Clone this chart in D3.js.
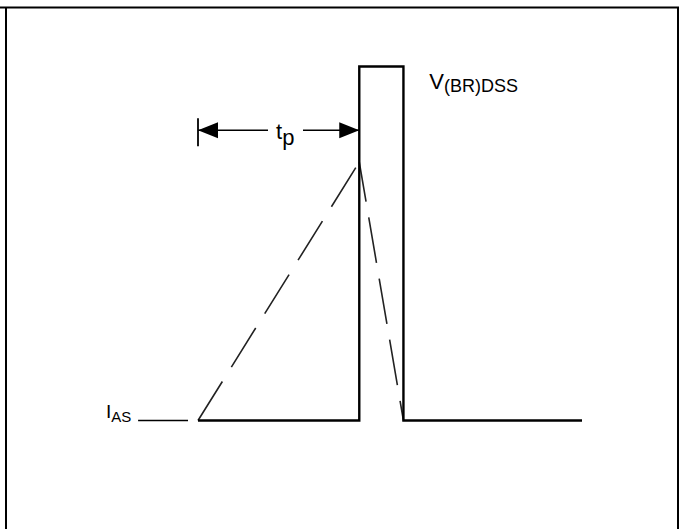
<!DOCTYPE html>
<html><head><meta charset="utf-8">
<script src="https://cdn.jsdelivr.net/npm/d3@7"></script>
<style>html,body{margin:0;padding:0;background:#fff;} svg{display:block;}</style>
</head><body>
<svg id="c" width="680" height="529"></svg>
<script>
// ---- data (arbitrary time / level units) ----
const vdsTime  = [0, 42, 42, 53.5, 53.5, 100];   // drain-source voltage waveform
const vdsLevel = [0, 0, 100, 100, 0, 0];
const iasTime  = [0, 42, 53.5];                  // avalanche current ramp
const iasLevel = [0, 73, 0];
const refTime  = [-15.6, -2.6];                  // short reference line at I_AS level
const tpSpan   = [0, 42];                        // t_p dimension
const tpLevel  = 82;
const labelMain = ["I", "V", "t"];
const labelSub  = ["AS", "(BR)DSS", "p"];

const svg = d3.select("#c");
const x = d3.scaleLinear().domain([0, 100]).range([198, 582]);
const y = d3.scaleLinear().domain([0, 100]).range([420.5, 66.5]);

// frame
svg.append("path")
  .attr("d", "M0,7.5 H678 V529 M6,7.5 V529")
  .attr("fill", "none").attr("stroke", "#000").attr("stroke-width", 2);

const line = d3.line().x(d => x(d[0])).y(d => y(d[1]));

// dashed current ramp (two segments, dashes starting at the ends)
svg.append("path")
  .attr("d", line([[iasTime[0], iasLevel[0]], [iasTime[1], iasLevel[1]]]))
  .attr("fill", "none").attr("stroke", "#222").attr("stroke-width", 1.6)
  .attr("stroke-dasharray", "46,17");
svg.append("path")
  .attr("d", line([[iasTime[2], iasLevel[2]], [iasTime[1], iasLevel[1]]]))
  .attr("fill", "none").attr("stroke", "#222").attr("stroke-width", 1.6)
  .attr("stroke-dasharray", "20,16,46,16,46,16,46,16,46,16");

// solid voltage waveform
svg.append("path")
  .attr("d", line(vdsTime.map((t, i) => [t, vdsLevel[i]])))
  .attr("fill", "none").attr("stroke", "#000").attr("stroke-width", 2.4)
  .attr("stroke-linejoin", "miter");

// short reference line
svg.append("line")
  .attr("x1", x(refTime[0])).attr("x2", x(refTime[1]))
  .attr("y1", y(0)).attr("y2", y(0))
  .attr("stroke", "#000").attr("stroke-width", 1.4);

// t_p dimension
const ty = y(tpLevel);
const xa = x(tpSpan[0]), xb = x(tpSpan[1]);
svg.append("line").attr("x1", xa).attr("x2", xa).attr("y1", ty - 12).attr("y2", ty + 16)
  .attr("stroke", "#000").attr("stroke-width", 1.8);
svg.append("line").attr("x1", xa).attr("x2", xa + 70).attr("y1", ty).attr("y2", ty)
  .attr("stroke", "#000").attr("stroke-width", 1.6);
svg.append("line").attr("x1", xa + 105).attr("x2", xb).attr("y1", ty).attr("y2", ty)
  .attr("stroke", "#000").attr("stroke-width", 1.6);
svg.append("path").attr("d", `M${xa},${ty} L${xa + 20},${ty - 8} L${xa + 20},${ty + 8} Z`).attr("fill", "#000");
svg.append("path").attr("d", `M${xb},${ty} L${xb - 20},${ty - 8} L${xb - 20},${ty + 8} Z`).attr("fill", "#000");

const font = "'Liberation Sans', Arial, sans-serif";
function label(px, py, main, sub, fsMain, fsSub, dy) {
  const t = svg.append("text").attr("x", px).attr("y", py)
    .attr("font-family", font).attr("fill", "#000");
  t.append("tspan").attr("font-size", fsMain).text(main);
  t.append("tspan").attr("font-size", fsSub).attr("dy", dy).text(sub);
}
label(106, 418, labelMain[0], labelSub[0], 19, 15, 4);
label(xb + 70, 89, labelMain[1], labelSub[1], 22, 18, 3);
label(xa + 78, 139, labelMain[2], labelSub[2], 22, 22, 6);
</script>
</body></html>
